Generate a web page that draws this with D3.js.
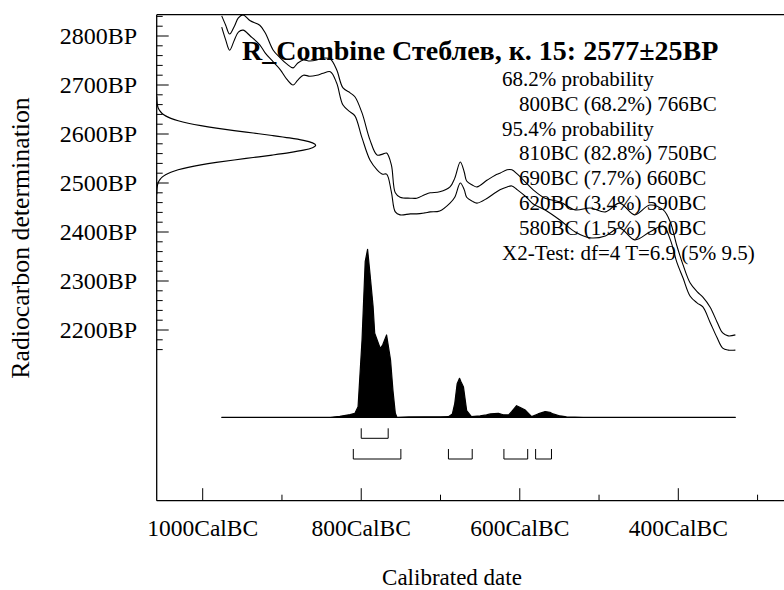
<!DOCTYPE html>
<html><head><meta charset="utf-8">
<script src="https://cdn.jsdelivr.net/npm/d3@7"></script>
<style>
html,body{margin:0;padding:0;background:#fff;}
svg{display:block;}
text{font-family:"Liberation Serif","Times New Roman",serif;fill:#000;}
</style></head>
<body>
<svg id="chart" width="784" height="590"></svg>
<script>
// ---- data ----
const titleText = "R_Combine Стеблев, к. 15: 2577±25BP";
const infoLines = [
  {t:"68.2% probability", indent:false},
  {t:"800BC (68.2%) 766BC", indent:true},
  {t:"95.4% probability", indent:false},
  {t:"810BC (82.8%) 750BC", indent:true},
  {t:"690BC (7.7%) 660BC", indent:true},
  {t:"620BC (3.4%) 590BC", indent:true},
  {t:"580BC (1.5%) 560BC", indent:true},
  {t:"X2-Test: df=4 T=6.9 (5% 9.5)", indent:false}
];
const xTickMajor = [-1000, -800, -600, -400];
const xTickLabels = ["1000CalBC", "800CalBC", "600CalBC", "400CalBC"];
const xTickMinor = [-900, -700, -500, -300];
const yTickMajor = [2800, 2700, 2600, 2500, 2400, 2300, 2200];
const yTickLabels = ["2800BP","2700BP","2600BP","2500BP","2400BP","2300BP","2200BP"];
const yTickMinor = [2840,2820,2780,2760,2740,2720,2680,2660,2640,2620,2580,2560,2540,2520,2480,2460,2440,2420,2380,2360,2340,2320,2280,2260,2240,2220,2180,2160];

// calibration curve (upper / lower 1-sigma envelope)
const calYears = [-976,-971,-966,-960,-955,-949,-940,-928,-921,-911,-902,-894,-886,-880,-873,-865,-856,-848,-839,-831,-823,-814,-808,-799,-789,-780,-773,-768,-762,-757,-751,-738,-730,-720,-713,-701,-688,-682,-675,-670,-667,-660,-654,-641,-631,-625,-616,-610,-603,-593,-583,-568,-549,-530,-511,-492,-474,-455,-436,-419,-410,-402,-394,-385,-376,-369,-360,-351,-344,-337,-328];
const calUpper = [2841,2822,2804,2820,2837,2843,2831,2822,2806,2771,2755,2743,2735,2745,2751,2749,2751,2755,2753,2731,2694,2684,2676,2643,2588,2557,2559,2561,2537,2480,2471,2469,2469,2476,2480,2482,2492,2510,2543,2522,2504,2496,2492,2506,2516,2520,2527,2527,2518,2502,2486,2469,2461,2445,2449,2441,2459,2435,2455,2445,2420,2373,2333,2296,2278,2267,2247,2216,2194,2188,2190];
const calLower = [2818,2792,2771,2792,2808,2812,2800,2782,2765,2747,2731,2712,2700,2710,2720,2718,2720,2724,2727,2704,2659,2645,2637,2592,2547,2527,2518,2518,2482,2441,2435,2437,2437,2439,2441,2443,2459,2471,2500,2486,2471,2463,2459,2469,2480,2486,2492,2494,2486,2473,2457,2445,2424,2400,2388,2392,2408,2384,2400,2412,2384,2339,2306,2269,2255,2247,2216,2184,2163,2159,2159];

// measured radiocarbon date (2577±25BP) probability, relative
const gaussBP = [2477,2482,2487,2492,2497,2502,2507,2512,2517,2522,2527,2532,2537,2542,2547,2552,2557,2562,2567,2572,2577,2582,2587,2592,2597,2602,2607,2612,2617,2622,2627,2632,2637,2642,2647,2652,2657,2662,2667,2672,2677];
const gaussDens = [.0003,.0007,.0015,.003,.006,.011,.020,.034,.056,.089,.135,.198,.278,.375,.487,.607,.726,.835,.923,.980,1,.980,.923,.835,.726,.607,.487,.375,.278,.198,.135,.089,.056,.034,.020,.011,.006,.003,.0015,.0007,.0003];

// calibrated (posterior) distribution, relative
const postYears = [-976,-839,-827,-814,-808,-804,-799,-795,-792,-789,-785,-783,-776,-773,-768,-763,-760,-757,-755,-740,-720,-700,-690,-685,-682,-679,-676,-674,-671,-667,-661,-650,-642,-637,-627,-621,-614,-610,-604,-600,-593,-585,-577,-568,-562,-558,-549,-541,-520,-328];
const postProb = [0,0,0.006,0.016,0.024,0.063,0.46,0.926,1,0.857,0.657,0.5,0.41,0.43,0.49,0.34,0.16,0.024,0,0.002,0.003,0.003,0.004,0.02,0.083,0.2,0.232,0.21,0.18,0.04,0.004,0.008,0.014,0.02,0.024,0.015,0.014,0.035,0.069,0.06,0.043,0.004,0.02,0.034,0.03,0.02,0.008,0.002,0,0];

const range68 = [[-800,-766]];
const range95 = [[-810,-750],[-690,-660],[-620,-590],[-580,-560]];

// ---- drawing ----
const svg = d3.select("#chart");
const pL = 156.7, pR = 784, pT = 14.7, pB = 500.7;

const x = d3.scaleLinear().domain([-1000, -400]).range([202.7, 678.3]);
const y = d3.scaleLinear().domain([2800, 2200]).range([36, 330]);
const yProb = d3.scaleLinear().domain([0, 1]).range([417.3, 249.3]);
const xGauss = d3.scaleLinear().domain([0, 1]).range([pL, 315.7]);

svg.append("clipPath").attr("id","clip").append("rect")
  .attr("x", pL).attr("y", pT).attr("width", pR-pL).attr("height", pB-pT);

const g = svg.append("g").attr("clip-path","url(#clip)");

// calibration curve
const calLine = (vals) => d3.line().x((d,i)=>x(calYears[i])).y((d,i)=>y(vals[i])).curve(d3.curveCatmullRom.alpha(0.5))(vals);
g.append("path").attr("d", calLine(calUpper)).attr("fill","none").attr("stroke","#000").attr("stroke-width",1.1);
g.append("path").attr("d", calLine(calLower)).attr("fill","none").attr("stroke","#000").attr("stroke-width",1.1);

// gaussian of measurement
g.append("path")
  .attr("d", d3.line().x((d,i)=>xGauss(gaussDens[i])).y((d,i)=>y(gaussBP[i])).curve(d3.curveMonotoneY)(gaussBP))
  .attr("fill","none").attr("stroke","#000").attr("stroke-width",1.2);

// posterior
g.append("path")
  .attr("d", d3.area().x((d,i)=>x(postYears[i])).y0(yProb(0)).y1((d,i)=>yProb(postProb[i]))(postYears))
  .attr("fill","#000").attr("stroke","#000").attr("stroke-width",1.2).attr("stroke-linejoin","round");

// ranges brackets
function bracket(r, yTop, h){
  const p = d3.path();
  p.moveTo(x(r[0]), yTop); p.lineTo(x(r[0]), yTop+h); p.lineTo(x(r[1]), yTop+h); p.lineTo(x(r[1]), yTop);
  return p.toString();
}
range68.forEach(r=> g.append("path").attr("d", bracket(r, 428.3, 10)).attr("fill","none").attr("stroke","#000").attr("stroke-width",1));
range95.forEach(r=> g.append("path").attr("d", bracket(r, 449, 10)).attr("fill","none").attr("stroke","#000").attr("stroke-width",1));

// frame
const ax = svg.append("g").attr("stroke","#000").attr("fill","none");
ax.append("line").attr("x1",pL).attr("x2",pR).attr("y1",pT).attr("y2",pT).attr("stroke-width",1.3);
ax.append("line").attr("x1",pL).attr("x2",pL).attr("y1",pT).attr("y2",pB).attr("stroke-width",1.3);
ax.append("line").attr("x1",pL).attr("x2",pR).attr("y1",pB).attr("y2",pB).attr("stroke-width",1.3);

// y ticks (inward)
yTickMajor.forEach(v=> ax.append("line").attr("x1",pL).attr("x2",pL+12).attr("y1",y(v)).attr("y2",y(v)).attr("stroke-width",1));
yTickMinor.forEach(v=> ax.append("line").attr("x1",pL).attr("x2",pL+6).attr("y1",y(v)).attr("y2",y(v)).attr("stroke-width",1));
// x ticks (inward)
xTickMajor.forEach(v=> ax.append("line").attr("x1",x(v)).attr("x2",x(v)).attr("y1",pB).attr("y2",pB-12.5).attr("stroke-width",1));
xTickMinor.forEach(v=> ax.append("line").attr("x1",x(v)).attr("x2",x(v)).attr("y1",pB).attr("y2",pB-6).attr("stroke-width",1));

// tick labels
yTickMajor.forEach((v,i)=> svg.append("text").attr("x",137).attr("y",y(v)).attr("dy","0.35em")
  .attr("text-anchor","end").attr("font-size",24).text(yTickLabels[i]));
xTickMajor.forEach((v,i)=> svg.append("text").attr("x",x(v)).attr("y",536)
  .attr("text-anchor","middle").attr("font-size",23.5).text(xTickLabels[i]));

// axis titles
svg.append("text").attr("x",452).attr("y",585).attr("text-anchor","middle").attr("font-size",23).text("Calibrated date");
svg.append("text").attr("transform","translate(29,238) rotate(-90)").attr("text-anchor","middle").attr("font-size",25.8).text("Radiocarbon determination");

// title and info
svg.append("text").attr("x",242).attr("y",60).attr("font-size",28).attr("font-weight","bold").text(titleText);
infoLines.forEach((l,i)=> svg.append("text").attr("x", l.indent ? 519 : 502).attr("y", 86 + 24.8*i)
  .attr("font-size",21).text(l.t));
</script>
</body></html>
